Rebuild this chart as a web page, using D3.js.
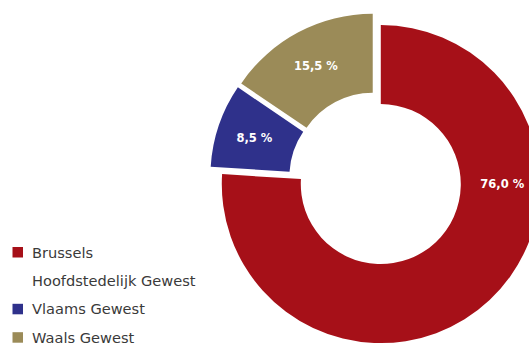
<!DOCTYPE html>
<html>
<head>
<meta charset="utf-8">
<script src="https://cdn.jsdelivr.net/npm/d3@7"></script>
<style>
  html, body { margin: 0; padding: 0; background: #ffffff; }
  svg { display: block; }
</style>
</head>
<body>
<svg id="chart" width="529" height="346"></svg>
<script>
// Regional shares (percent), in drawing order clockwise from 12 o'clock
const regions = ["Brussels Hoofdstedelijk Gewest", "Vlaams Gewest", "Waals Gewest"];
const shares = [76.0, 8.5, 15.5];
const shareLabels = ["76,0 %", "8,5 %", "15,5 %"];
const legendLines = [["Brussels", "Hoofdstedelijk Gewest"], ["Vlaams Gewest"], ["Waals Gewest"]];
const palette = ["#a61018", "#2f318b", "#9b8b58"];

const svg = d3.select("#chart");

const cx = 376, cy = 179;
const outerR = 159, innerR = 80;
const explode = 7;

const rows = regions.map((r, i) => ({ region: r, value: shares[i], label: shareLabels[i], i }));

const pie = d3.pie().value(d => d.value).sort(null);
const arc = d3.arc().innerRadius(innerR).outerRadius(outerR);
const labelR = (innerR + outerR) / 2 + 2;

const color = d3.scaleOrdinal().domain(regions).range(palette);

const g = svg.append("g").attr("transform", `translate(${cx},${cy})`);

const slices = g.selectAll("g.slice")
  .data(pie(rows))
  .join("g")
  .attr("class", "slice")
  .attr("transform", d => {
    const mid = (d.startAngle + d.endAngle) / 2;
    return `translate(${Math.sin(mid) * explode},${-Math.cos(mid) * explode})`;
  });

slices.append("path")
  .attr("d", arc)
  .attr("fill", d => color(d.data.region));

// The dominant share gets its label at 3 o'clock, the others at their mid-angle
slices.append("text")
  .attr("transform", d => {
    const a = d.data.value > 50 ? Math.PI / 2 : (d.startAngle + d.endAngle) / 2;
    return `translate(${Math.sin(a) * labelR},${-Math.cos(a) * labelR})`;
  })
  .attr("text-anchor", "middle")
  .attr("dy", "0.36em")
  .attr("fill", "#ffffff")
  .style("font-family", "'DejaVu Sans', sans-serif")
  .style("font-weight", "bold")
  .style("font-size", "11.5px")
  .text(d => d.data.label);

// Legend
const legendX = 12, textX = 32, lineH = 28.4;
const firstBaseline = 257.5;
const legend = svg.append("g");
let line = 0;
rows.forEach((row, i) => {
  const base = firstBaseline + line * lineH;
  legend.append("rect")
    .attr("x", legendX + 0.5)
    .attr("y", base - 10.5)
    .attr("width", 10.5)
    .attr("height", 10.5)
    .attr("fill", color(row.region));
  legendLines[i].forEach((t, j) => {
    legend.append("text")
      .attr("x", textX)
      .attr("y", firstBaseline + (line + j) * lineH)
      .attr("fill", "#3a3a3a")
      .style("font-family", "'DejaVu Sans', sans-serif")
      .style("font-size", "14.6px")
      .text(t);
  });
  line += legendLines[i].length;
});
</script>
</body>
</html>
